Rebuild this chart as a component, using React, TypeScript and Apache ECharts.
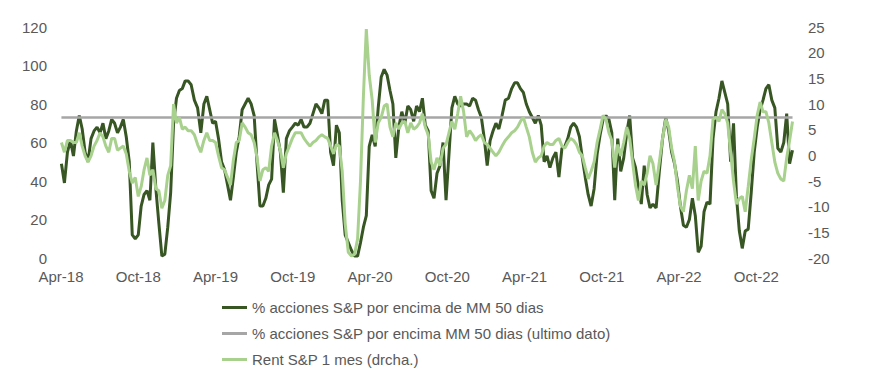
import React, { useEffect, useRef } from "react";
import * as echarts from "echarts";

// Weekly observations starting Monday 2018-04-02
const startYear = 2018;
const startMonth = 3; // April (0-based)
const startDay = 2;

// % of S&P 500 stocks above their 50-day moving average (left axis)
const pctAbove50 = [
  49, 39, 55, 61, 53, 66, 74, 67, 55, 50,
  62, 66, 68, 65, 70, 62, 66, 72, 70, 65,
  68, 72, 63, 50, 12, 10, 12, 27, 33, 35,
  30, 60, 36, 18, 1, 2, 16, 34, 70, 83,
  87, 88, 92, 92, 90, 82, 78, 65, 80, 84,
  77, 70, 71, 62, 50, 46, 38, 30, 42, 55,
  63, 77, 80, 83, 80, 74, 49, 27, 27, 31,
  38, 41, 72, 64, 55, 34, 62, 66, 68, 70,
  69, 72, 68, 68, 70, 75, 80, 78, 75, 82,
  82, 55, 48, 69, 65, 30, 12, 8, 4, 1,
  1, 8, 16, 22, 58, 64, 58, 78, 94, 98,
  95, 87, 80, 52, 68, 76, 70, 79, 77, 71,
  79, 76, 83, 69, 66, 35, 31, 44, 48, 60,
  30, 54, 78, 84, 80, 79, 80, 80, 79, 83,
  82, 77, 73, 62, 48, 61, 66, 70, 67, 74,
  82, 83, 88, 91, 91, 88, 86, 80, 76, 73,
  70, 74, 69, 50, 53, 47, 52, 55, 42, 57,
  58, 62, 68, 70, 68, 63, 52, 42, 33, 27,
  36, 54, 64, 72, 74, 72, 65, 30, 62, 45,
  52, 65, 74, 52, 47, 37, 28, 48, 33, 26,
  28, 26, 45, 62, 73, 66, 55, 49, 40, 27,
  17, 16, 20, 31, 22, 3, 6, 24, 29, 28,
  62, 76, 83, 92, 86, 80, 50, 70, 32, 14,
  5, 14, 15, 34, 55, 68, 77, 82, 88, 90,
  82, 78, 57, 55, 60, 75, 49, 56,
];

// Latest reading of the same indicator (horizontal reference)
const latestValue = 73;

// S&P 500 one-month return, % (right axis)
const rent1m = [
  2.5, 0.6, 2.9, 2.9, 2.5, 2.5, 4.4, 1.8, -0.1, -1.3,
  -0.1, 1.8, 2.9, 4.4, 3.6, 1.8, 0.6, 3.3, 3.3, 1.0,
  1.4, 1.8, 0.3, -3.1, -5.4, -4.3, -8.0, -6.1, -2.8, -0.5,
  -3.9, -2.8, -6.5, -6.9, -10.3, -8.8, -3.9, -2.0, 10.0, 6.3,
  7.4, 5.1, 5.5, 4.8, 4.8, 4.0, 2.1, 0.6, 2.9, 4.4,
  2.9, 2.9, 2.5, -0.1, -2.4, -2.8, -4.3, -5.8, -0.9, 2.5,
  2.9, 6.3, 5.5, 4.4, 4.0, 2.5, -0.5, -5.0, -2.8, -2.4,
  -3.1, 1.8, 4.4, 2.9, 1.0, -2.4, 0.3, 1.8, 3.3, 4.4,
  4.4, 4.4, 3.3, 2.5, 1.8, 2.5, 2.9, 3.6, 4.0, 3.6,
  3.3, 1.8, 0.3, 2.1, 1.8, -3.1, -13.3, -18.9, -19.6, -19.3,
  -16.3, -5.0, 11.5, 24.6, 15.6, 10.8, 2.5, 6.3, 7.4, 9.6,
  10.0, 5.5, 3.6, 6.3, 5.1, 6.3, 6.6, 4.4, 6.3, 5.1,
  5.5, 6.3, 8.1, 5.5, 4.0, -1.3, -2.8, -0.5, -2.0, 1.4,
  2.1, 4.4, 6.6, 5.1, 8.1, 11.5, 8.5, 3.6, 4.8, 4.0,
  2.9, 3.6, 4.0, 2.5, 2.1, 1.4, 0.6, -0.1, 0.6, 1.8,
  2.9, 3.6, 4.4, 4.8, 5.5, 6.6, 7.4, 5.5, 3.6, 0.6,
  -1.3, -0.5, -0.1, 1.8, 2.5, 2.1, 2.1, 2.9, 3.3, 1.8,
  1.4, 2.5, 3.3, 2.9, 2.1, 0.6, -0.1, -2.4, -4.6, -3.1,
  -1.3, 2.5, 5.1, 7.8, 7.0, 4.4, 2.9, -2.4, 2.1, -0.1,
  2.5, 5.5, 3.3, -1.3, -5.8, -8.8, -5.0, -5.8, -3.5, -0.1,
  -1.6, -5.8, -1.3, 3.3, 7.0, 5.5, 1.4, -1.3, -6.1, -9.9,
  -11.0, -6.9, -3.9, -6.5, 1.8, -8.8, -5.0, -3.1, -3.5, -0.1,
  7.0, 7.4, 6.6, 8.9, 8.1, 6.3, 0.6, -5.0, -9.5, -8.4,
  -8.0, -11.0, -6.1, -0.9, 3.3, 7.8, 10.4, 8.5, 8.5, 6.3,
  2.5, -1.3, -3.5, -4.6, -5.0, -0.5, 2.9, 6.6,
];

// X-axis tick labels, one every 6 months from April 2018
const xTickLabels = [
  "Apr-18", "Oct-18", "Apr-19", "Oct-19", "Apr-20",
  "Oct-20", "Apr-21", "Oct-21", "Apr-22", "Oct-22",
];

const seriesNames = [
  "% acciones S&P por encima de MM 50 dias",
  "% acciones S&P por encima MM 50 dias (ultimo dato)",
  "Rent S&P 1 mes (drcha.)",
];

const DARK = "#375623";
const LIGHT = "#A9D18E";
const GRAY = "#A6A6A6";
const TEXT = "#595959";
const FONT = "'Liberation Sans', Arial, sans-serif";

// month offset (from April 2018) of week index w
function monthOffset(w: number): number {
  const t = Date.UTC(startYear, startMonth, startDay) + w * 7 * 86400000;
  const d = new Date(t);
  const y = d.getUTCFullYear();
  const m = d.getUTCMonth();
  const day = d.getUTCDate();
  const dim = new Date(Date.UTC(y, m + 1, 0)).getUTCDate();
  return (y - startYear) * 12 + (m - startMonth) + (day - 1) / dim;
}

export default function App() {
  const ref = useRef<HTMLDivElement>(null);

  useEffect(() => {
    if (!ref.current) return;
    const chart = echarts.init(ref.current, undefined, { renderer: "svg" });

    const darkData = pctAbove50.map((v, i) => [monthOffset(i), v]);
    const grayData = pctAbove50.map((_, i) => [monthOffset(i), latestValue]);
    const lightData = rent1m.map((v, i) => [monthOffset(i), v]);

    chart.setOption({
      animation: false,
      backgroundColor: "#ffffff",
      textStyle: { fontFamily: FONT },
      grid: { left: 61, right: 98, top: 27, bottom: 120, containLabel: false },
      legend: {
        orient: "vertical",
        left: 222,
        top: 300,
        padding: 0,
        icon: "rect",
        itemWidth: 25,
        itemHeight: 3,
        itemGap: 11,
        data: seriesNames,
        textStyle: { color: TEXT, fontSize: 15, fontFamily: FONT },
      },
      xAxis: {
        type: "value",
        min: 0,
        max: 57,
        interval: 6,
        axisLine: { show: false },
        axisTick: { show: false },
        splitLine: { show: false },
        axisLabel: {
          color: TEXT,
          fontSize: 15,
          fontFamily: FONT,
          margin: 11,
          showMaxLabel: false,
          formatter: (v: number) => {
            const i = Math.round(v / 6);
            if (Math.abs(v - i * 6) < 1e-6 && i < xTickLabels.length) return xTickLabels[i];
            return "";
          },
        },
      },
      yAxis: [
        {
          type: "value",
          min: 0,
          max: 120,
          interval: 20,
          axisLine: { show: false },
          axisTick: { show: false },
          splitLine: { show: false },
          axisLabel: { color: TEXT, fontSize: 15, fontFamily: FONT, margin: 14 },
        },
        {
          type: "value",
          min: -20,
          max: 25,
          interval: 5,
          position: "right",
          axisLine: { show: false },
          axisTick: { show: false },
          splitLine: { show: false },
          axisLabel: { color: TEXT, fontSize: 15, fontFamily: FONT, margin: 13 },
        },
      ],
      series: [
        {
          name: seriesNames[0],
          type: "line",
          yAxisIndex: 0,
          data: darkData,
          symbol: "none",
          color: DARK,
          lineStyle: { color: DARK, width: 3 },
          z: 2,
        },
        {
          name: seriesNames[1],
          type: "line",
          yAxisIndex: 0,
          data: grayData,
          symbol: "none",
          color: GRAY,
          lineStyle: { color: GRAY, width: 2.5 },
          z: 3,
        },
        {
          name: seriesNames[2],
          type: "line",
          yAxisIndex: 1,
          data: lightData,
          symbol: "none",
          color: LIGHT,
          lineStyle: { color: LIGHT, width: 3 },
          z: 4,
        },
      ],
    });

    return () => chart.dispose();
  }, []);

  return (
    <div
      ref={ref}
      style={{ position: "absolute", left: 0, top: 0, width: 893, height: 378, background: "#fff" }}
    />
  );
}
